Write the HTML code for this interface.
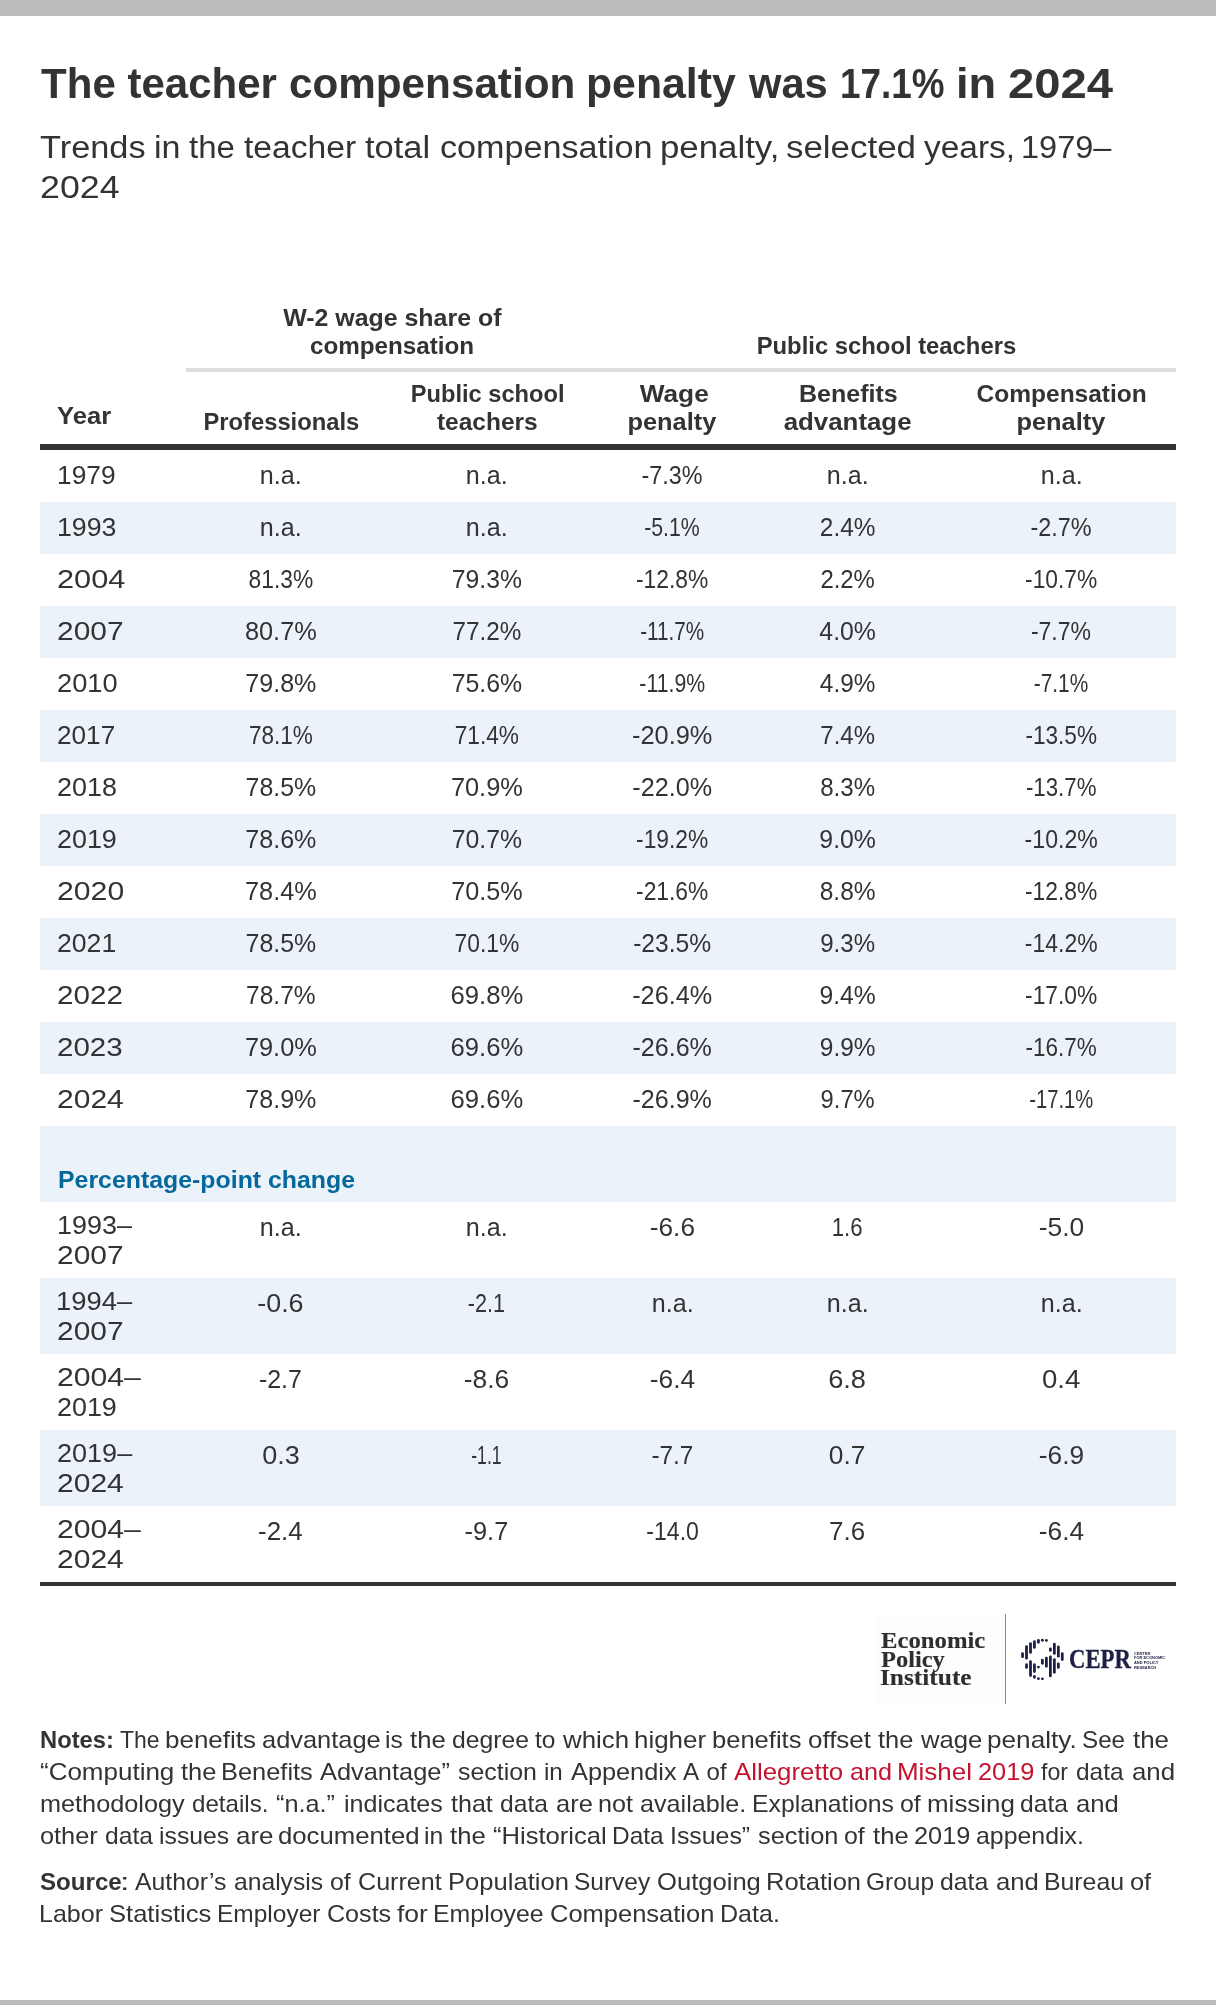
<!DOCTYPE html>
<html lang="en"><head><meta charset="utf-8">
<title>The teacher compensation penalty was 17.1% in 2024</title>
<style>
html,body{margin:0;padding:0;background:#fff;}
body{width:1216px;height:2005px;position:relative;overflow:hidden;font-family:"Liberation Sans",Arial,sans-serif;color:#333;}
.r{position:absolute;}
.t{position:absolute;white-space:nowrap;line-height:1;transform-origin:0 0;}
.c{transform-origin:50% 0;}
#w{position:absolute;left:0;top:0;width:1216px;height:2005px;will-change:transform;}
</style></head><body><div id="w">
<div class="r" style="left:877px;top:1614px;width:128px;height:90px;background:#fdfdfd"></div>
<div class="r" style="left:0px;top:0px;width:1216px;height:16px;background:#bbb"></div>
<div class="r" style="left:0px;top:2000px;width:1216px;height:5px;background:#bbb"></div>
<div class="r" style="left:186px;top:368px;width:990px;height:4px;background:#ddd"></div>
<div class="r" style="left:40px;top:444px;width:1136px;height:6px;background:#333"></div>
<div class="r" style="left:40px;top:502px;width:1136px;height:52px;background:#ebf2fa"></div>
<div class="r" style="left:40px;top:606px;width:1136px;height:52px;background:#ebf2fa"></div>
<div class="r" style="left:40px;top:710px;width:1136px;height:52px;background:#ebf2fa"></div>
<div class="r" style="left:40px;top:814px;width:1136px;height:52px;background:#ebf2fa"></div>
<div class="r" style="left:40px;top:918px;width:1136px;height:52px;background:#ebf2fa"></div>
<div class="r" style="left:40px;top:1022px;width:1136px;height:52px;background:#ebf2fa"></div>
<div class="r" style="left:40px;top:1126px;width:1136px;height:76px;background:#ebf2fa"></div>
<div class="r" style="left:40px;top:1278px;width:1136px;height:76px;background:#ebf2fa"></div>
<div class="r" style="left:40px;top:1430px;width:1136px;height:76px;background:#ebf2fa"></div>
<div class="r" style="left:40px;top:1582px;width:1136px;height:4px;background:#333"></div>
<div class="t" style="left:41.08px;top:63px;font-size:42px;font-weight:bold;">The</div>
<div class="t" style="left:127.53px;top:63px;font-size:42px;font-weight:bold;">teacher</div>
<div class="t" style="left:289.49px;top:63px;font-size:42px;font-weight:bold;transform:scaleX(1.0054);">compensation</div>
<div class="t" style="left:586.35px;top:63px;font-size:42px;font-weight:bold;transform:scaleX(1.0183);">penalty</div>
<div class="t" style="left:749.20px;top:63px;font-size:42px;font-weight:bold;transform:scaleX(0.9920);">was</div>
<div class="t" style="left:839.71px;top:63px;font-size:42px;font-weight:bold;transform:scaleX(0.8778);">17.1%</div>
<div class="t" style="left:956.47px;top:63px;font-size:42px;font-weight:bold;transform:scaleX(1.0765);">in</div>
<div class="t" style="left:1008.12px;top:63px;font-size:42px;font-weight:bold;transform:scaleX(1.1245);">2024</div>
<div class="t" style="left:40.39px;top:132px;font-size:31px;transform:scaleX(1.1075);">Trends</div>
<div class="t" style="left:153.80px;top:132px;font-size:31px;transform:scaleX(1.1000);">in</div>
<div class="t" style="left:189.05px;top:132px;font-size:31px;transform:scaleX(1.0632);">the</div>
<div class="t" style="left:244.04px;top:132px;font-size:31px;transform:scaleX(1.0853);">teacher</div>
<div class="t" style="left:365.03px;top:132px;font-size:31px;transform:scaleX(1.1123);">total</div>
<div class="t" style="left:439.98px;top:132px;font-size:31px;transform:scaleX(1.1012);">compensation</div>
<div class="t" style="left:659.55px;top:132px;font-size:31px;transform:scaleX(1.1227);">penalty,</div>
<div class="t" style="left:786.03px;top:132px;font-size:31px;transform:scaleX(1.1259);">selected</div>
<div class="t" style="left:924.38px;top:132px;font-size:31px;transform:scaleX(1.0784);">years,</div>
<div class="t" style="left:1020.88px;top:132px;font-size:31px;transform:scaleX(1.0490);">1979–</div>
<div class="t" style="left:39.75px;top:172px;font-size:31px;transform:scaleX(1.1537);">2024</div>
<div class="t c" style="left:285.07px;top:306px;font-size:24.5px;font-weight:bold;transform:scaleX(1.0169);">W-2 wage share of</div>
<div class="t c" style="left:308.55px;top:334px;font-size:24.5px;font-weight:bold;transform:scaleX(0.9884);">compensation</div>
<div class="t c" style="left:753.27px;top:334px;font-size:24.5px;font-weight:bold;transform:scaleX(0.9725);">Public school teachers</div>
<div class="t" style="left:56.96px;top:404px;font-size:24.5px;font-weight:bold;transform:scaleX(1.0447);">Year</div>
<div class="t c" style="left:200.60px;top:410px;font-size:24.5px;font-weight:bold;transform:scaleX(0.9696);">Professionals</div>
<div class="t c" style="left:407.69px;top:382px;font-size:24.5px;font-weight:bold;transform:scaleX(0.9653);">Public school</div>
<div class="t c" style="left:436.95px;top:410px;font-size:24.5px;font-weight:bold;">teachers</div>
<div class="t c" style="left:641.73px;top:382px;font-size:24.5px;font-weight:bold;transform:scaleX(1.0721);">Wage</div>
<div class="t c" style="left:629.37px;top:410px;font-size:24.5px;font-weight:bold;transform:scaleX(1.0356);">penalty</div>
<div class="t c" style="left:799.59px;top:382px;font-size:24.5px;font-weight:bold;transform:scaleX(1.0213);">Benefits</div>
<div class="t c" style="left:787.21px;top:410px;font-size:24.5px;font-weight:bold;transform:scaleX(1.0555);">advantage</div>
<div class="t c" style="left:976.62px;top:382px;font-size:24.5px;font-weight:bold;">Compensation</div>
<div class="t c" style="left:1017.87px;top:410px;font-size:24.5px;font-weight:bold;transform:scaleX(1.0356);">penalty</div>
<div class="t" style="left:56.57px;top:462px;font-size:26px;transform:scaleX(1.0139);">1979</div>
<div class="t c" style="left:258.99px;top:462px;font-size:26px;transform:scaleX(0.9660);">n.a.</div>
<div class="t c" style="left:464.99px;top:462px;font-size:26px;transform:scaleX(0.9660);">n.a.</div>
<div class="t c" style="left:638.37px;top:462px;font-size:26px;transform:scaleX(0.8973);">-7.3%</div>
<div class="t c" style="left:825.89px;top:462px;font-size:26px;transform:scaleX(0.9660);">n.a.</div>
<div class="t c" style="left:1039.79px;top:462px;font-size:26px;transform:scaleX(0.9660);">n.a.</div>
<div class="t" style="left:56.54px;top:514px;font-size:26px;transform:scaleX(1.0285);">1993</div>
<div class="t c" style="left:258.99px;top:514px;font-size:26px;transform:scaleX(0.9660);">n.a.</div>
<div class="t c" style="left:464.99px;top:514px;font-size:26px;transform:scaleX(0.9660);">n.a.</div>
<div class="t c" style="left:638.38px;top:514px;font-size:26px;transform:scaleX(0.8183);">-5.1%</div>
<div class="t c" style="left:817.56px;top:514px;font-size:26px;transform:scaleX(0.9386);">2.4%</div>
<div class="t c" style="left:1027.27px;top:514px;font-size:26px;transform:scaleX(0.8993);">-2.7%</div>
<div class="t" style="left:57.12px;top:566px;font-size:26px;transform:scaleX(1.1821);">2004</div>
<div class="t c" style="left:243.59px;top:566px;font-size:26px;transform:scaleX(0.8764);">81.3%</div>
<div class="t c" style="left:449.51px;top:566px;font-size:26px;transform:scaleX(0.9524);">79.3%</div>
<div class="t c" style="left:631.14px;top:566px;font-size:26px;transform:scaleX(0.8784);">-12.8%</div>
<div class="t c" style="left:817.57px;top:566px;font-size:26px;transform:scaleX(0.9185);">2.2%</div>
<div class="t c" style="left:1020.04px;top:566px;font-size:26px;transform:scaleX(0.8760);">-10.7%</div>
<div class="t" style="left:57.16px;top:618px;font-size:26px;transform:scaleX(1.1502);">2007</div>
<div class="t c" style="left:243.59px;top:618px;font-size:26px;transform:scaleX(0.9758);">80.7%</div>
<div class="t c" style="left:449.52px;top:618px;font-size:26px;transform:scaleX(0.9324);">77.2%</div>
<div class="t c" style="left:632.14px;top:618px;font-size:26px;transform:scaleX(0.7969);">-11.7%</div>
<div class="t c" style="left:817.89px;top:618px;font-size:26px;transform:scaleX(0.9537);">4.0%</div>
<div class="t c" style="left:1027.27px;top:618px;font-size:26px;transform:scaleX(0.8848);">-7.7%</div>
<div class="t" style="left:57.29px;top:670px;font-size:26px;transform:scaleX(1.0472);">2010</div>
<div class="t c" style="left:243.51px;top:670px;font-size:26px;transform:scaleX(0.9650);">79.8%</div>
<div class="t c" style="left:449.51px;top:670px;font-size:26px;transform:scaleX(0.9558);">75.6%</div>
<div class="t c" style="left:632.14px;top:670px;font-size:26px;transform:scaleX(0.8169);">-11.9%</div>
<div class="t c" style="left:817.89px;top:670px;font-size:26px;transform:scaleX(0.9376);">4.9%</div>
<div class="t c" style="left:1027.28px;top:670px;font-size:26px;transform:scaleX(0.8020);">-7.1%</div>
<div class="t" style="left:57.34px;top:722px;font-size:26px;transform:scaleX(1.0070);">2017</div>
<div class="t c" style="left:243.53px;top:722px;font-size:26px;transform:scaleX(0.8668);">78.1%</div>
<div class="t c" style="left:449.52px;top:722px;font-size:26px;transform:scaleX(0.8722);">71.4%</div>
<div class="t c" style="left:631.13px;top:722px;font-size:26px;transform:scaleX(0.9752);">-20.9%</div>
<div class="t c" style="left:817.56px;top:722px;font-size:26px;transform:scaleX(0.9221);">7.4%</div>
<div class="t c" style="left:1020.04px;top:722px;font-size:26px;transform:scaleX(0.8685);">-13.5%</div>
<div class="t" style="left:57.30px;top:774px;font-size:26px;transform:scaleX(1.0357);">2018</div>
<div class="t c" style="left:243.51px;top:774px;font-size:26px;transform:scaleX(0.9581);">78.5%</div>
<div class="t c" style="left:449.51px;top:774px;font-size:26px;transform:scaleX(0.9758);">70.9%</div>
<div class="t c" style="left:631.14px;top:774px;font-size:26px;transform:scaleX(0.9677);">-22.0%</div>
<div class="t c" style="left:817.63px;top:774px;font-size:26px;transform:scaleX(0.9271);">8.3%</div>
<div class="t c" style="left:1020.04px;top:774px;font-size:26px;transform:scaleX(0.8552);">-13.7%</div>
<div class="t" style="left:57.30px;top:826px;font-size:26px;transform:scaleX(1.0343);">2019</div>
<div class="t c" style="left:243.51px;top:826px;font-size:26px;transform:scaleX(0.9650);">78.6%</div>
<div class="t c" style="left:449.51px;top:826px;font-size:26px;transform:scaleX(0.9539);">70.7%</div>
<div class="t c" style="left:631.14px;top:826px;font-size:26px;transform:scaleX(0.8763);">-19.2%</div>
<div class="t c" style="left:817.57px;top:826px;font-size:26px;transform:scaleX(0.9555);">9.0%</div>
<div class="t c" style="left:1020.04px;top:826px;font-size:26px;transform:scaleX(0.8879);">-10.2%</div>
<div class="t" style="left:57.14px;top:878px;font-size:26px;transform:scaleX(1.1623);">2020</div>
<div class="t c" style="left:243.51px;top:878px;font-size:26px;transform:scaleX(0.9727);">78.4%</div>
<div class="t c" style="left:449.51px;top:878px;font-size:26px;transform:scaleX(0.9688);">70.5%</div>
<div class="t c" style="left:631.14px;top:878px;font-size:26px;transform:scaleX(0.8763);">-21.6%</div>
<div class="t c" style="left:817.63px;top:878px;font-size:26px;transform:scaleX(0.9429);">8.8%</div>
<div class="t c" style="left:1020.04px;top:878px;font-size:26px;transform:scaleX(0.8784);">-12.8%</div>
<div class="t" style="left:57.32px;top:930px;font-size:26px;transform:scaleX(1.0236);">2021</div>
<div class="t c" style="left:243.51px;top:930px;font-size:26px;transform:scaleX(0.9581);">78.5%</div>
<div class="t c" style="left:449.52px;top:930px;font-size:26px;transform:scaleX(0.8776);">70.1%</div>
<div class="t c" style="left:631.14px;top:930px;font-size:26px;transform:scaleX(0.9483);">-23.5%</div>
<div class="t c" style="left:817.58px;top:930px;font-size:26px;transform:scaleX(0.9262);">9.3%</div>
<div class="t c" style="left:1020.04px;top:930px;font-size:26px;transform:scaleX(0.8832);">-14.2%</div>
<div class="t" style="left:57.17px;top:982px;font-size:26px;transform:scaleX(1.1399);">2022</div>
<div class="t c" style="left:243.52px;top:982px;font-size:26px;transform:scaleX(0.9431);">78.7%</div>
<div class="t c" style="left:449.50px;top:982px;font-size:26px;transform:scaleX(0.9872);">69.8%</div>
<div class="t c" style="left:631.14px;top:982px;font-size:26px;transform:scaleX(0.9704);">-26.4%</div>
<div class="t c" style="left:817.57px;top:982px;font-size:26px;transform:scaleX(0.9488);">9.4%</div>
<div class="t c" style="left:1020.04px;top:982px;font-size:26px;transform:scaleX(0.8760);">-17.0%</div>
<div class="t" style="left:57.17px;top:1034px;font-size:26px;transform:scaleX(1.1361);">2023</div>
<div class="t c" style="left:243.51px;top:1034px;font-size:26px;transform:scaleX(0.9758);">79.0%</div>
<div class="t c" style="left:449.50px;top:1034px;font-size:26px;transform:scaleX(0.9849);">69.6%</div>
<div class="t c" style="left:631.14px;top:1034px;font-size:26px;transform:scaleX(0.9636);">-26.6%</div>
<div class="t c" style="left:817.57px;top:1034px;font-size:26px;transform:scaleX(0.9392);">9.9%</div>
<div class="t c" style="left:1020.04px;top:1034px;font-size:26px;transform:scaleX(0.8644);">-16.7%</div>
<div class="t" style="left:57.15px;top:1086px;font-size:26px;transform:scaleX(1.1546);">2024</div>
<div class="t c" style="left:243.51px;top:1086px;font-size:26px;transform:scaleX(0.9650);">78.9%</div>
<div class="t c" style="left:449.50px;top:1086px;font-size:26px;transform:scaleX(0.9849);">69.6%</div>
<div class="t c" style="left:631.14px;top:1086px;font-size:26px;transform:scaleX(0.9636);">-26.9%</div>
<div class="t c" style="left:817.58px;top:1086px;font-size:26px;transform:scaleX(0.9119);">9.7%</div>
<div class="t c" style="left:1020.05px;top:1086px;font-size:26px;transform:scaleX(0.7771);">-17.1%</div>
<div class="t" style="left:57.67px;top:1168px;font-size:24.5px;font-weight:bold;color:#04689b;transform:scaleX(1.0149);">Percentage-point change</div>
<div class="t" style="left:56.53px;top:1212px;font-size:26px;transform:scaleX(1.0357);">1993–</div>
<div class="t" style="left:57.16px;top:1242px;font-size:26px;transform:scaleX(1.1502);">2007</div>
<div class="t c" style="left:258.99px;top:1214px;font-size:26px;transform:scaleX(0.9660);">n.a.</div>
<div class="t c" style="left:464.99px;top:1214px;font-size:26px;transform:scaleX(0.9660);">n.a.</div>
<div class="t c" style="left:650.09px;top:1214px;font-size:26px;transform:scaleX(1.0091);">-6.6</div>
<div class="t c" style="left:828.96px;top:1214px;font-size:26px;transform:scaleX(0.8519);">1.6</div>
<div class="t c" style="left:1038.91px;top:1214px;font-size:26px;transform:scaleX(1.0156);">-5.0</div>
<div class="t" style="left:56.49px;top:1288px;font-size:26px;transform:scaleX(1.0541);">1994–</div>
<div class="t" style="left:57.16px;top:1318px;font-size:26px;transform:scaleX(1.1502);">2007</div>
<div class="t c" style="left:258.19px;top:1290px;font-size:26px;transform:scaleX(1.0311);">-0.6</div>
<div class="t c" style="left:464.20px;top:1290px;font-size:26px;transform:scaleX(0.8306);">-2.1</div>
<div class="t c" style="left:650.89px;top:1290px;font-size:26px;transform:scaleX(0.9660);">n.a.</div>
<div class="t c" style="left:825.89px;top:1290px;font-size:26px;transform:scaleX(0.9660);">n.a.</div>
<div class="t c" style="left:1039.79px;top:1290px;font-size:26px;transform:scaleX(0.9660);">n.a.</div>
<div class="t" style="left:57.14px;top:1364px;font-size:26px;transform:scaleX(1.1600);">2004–</div>
<div class="t" style="left:57.30px;top:1394px;font-size:26px;transform:scaleX(1.0343);">2019</div>
<div class="t c" style="left:258.23px;top:1366px;font-size:26px;transform:scaleX(0.9600);">-2.7</div>
<div class="t c" style="left:464.19px;top:1366px;font-size:26px;transform:scaleX(1.0130);">-8.6</div>
<div class="t c" style="left:649.85px;top:1366px;font-size:26px;transform:scaleX(1.0108);">-6.4</div>
<div class="t c" style="left:829.25px;top:1366px;font-size:26px;transform:scaleX(1.0472);">6.8</div>
<div class="t c" style="left:1043.04px;top:1366px;font-size:26px;transform:scaleX(1.0612);">0.4</div>
<div class="t" style="left:57.30px;top:1440px;font-size:26px;transform:scaleX(1.0399);">2019–</div>
<div class="t" style="left:57.15px;top:1470px;font-size:26px;transform:scaleX(1.1546);">2024</div>
<div class="t c" style="left:262.50px;top:1442px;font-size:26px;transform:scaleX(1.0388);">0.3</div>
<div class="t c" style="left:464.18px;top:1442px;font-size:26px;transform:scaleX(0.6793);">-1.1</div>
<div class="t c" style="left:650.12px;top:1442px;font-size:26px;transform:scaleX(0.9374);">-7.7</div>
<div class="t c" style="left:829.41px;top:1442px;font-size:26px;transform:scaleX(1.0149);">0.7</div>
<div class="t c" style="left:1039.01px;top:1442px;font-size:26px;transform:scaleX(1.0101);">-6.9</div>
<div class="t" style="left:57.14px;top:1516px;font-size:26px;transform:scaleX(1.1600);">2004–</div>
<div class="t" style="left:57.15px;top:1546px;font-size:26px;transform:scaleX(1.1546);">2024</div>
<div class="t c" style="left:257.96px;top:1518px;font-size:26px;transform:scaleX(0.9968);">-2.4</div>
<div class="t c" style="left:464.23px;top:1518px;font-size:26px;transform:scaleX(0.9742);">-9.7</div>
<div class="t c" style="left:642.85px;top:1518px;font-size:26px;transform:scaleX(0.8874);">-14.0</div>
<div class="t c" style="left:829.26px;top:1518px;font-size:26px;transform:scaleX(0.9952);">7.6</div>
<div class="t c" style="left:1038.75px;top:1518px;font-size:26px;transform:scaleX(1.0108);">-6.4</div>
<div class="t" style="left:39.94px;top:1728px;font-size:24px;font-weight:bold;transform:scaleX(0.9886);">Notes:</div>
<div class="t" style="left:120.02px;top:1728px;font-size:24px;transform:scaleX(0.9570);">The</div>
<div class="t" style="left:164.83px;top:1728px;font-size:24px;transform:scaleX(1.0827);">benefits</div>
<div class="t" style="left:261.83px;top:1728px;font-size:24px;transform:scaleX(1.0583);">advantage</div>
<div class="t" style="left:385.29px;top:1728px;font-size:24px;transform:scaleX(1.0259);">is</div>
<div class="t" style="left:410.18px;top:1728px;font-size:24px;transform:scaleX(1.0695);">the</div>
<div class="t" style="left:451.57px;top:1728px;font-size:24px;transform:scaleX(1.0300);">degree</div>
<div class="t" style="left:535.19px;top:1728px;font-size:24px;transform:scaleX(1.0215);">to</div>
<div class="t" style="left:563.49px;top:1728px;font-size:24px;transform:scaleX(1.0776);">which</div>
<div class="t" style="left:634.04px;top:1728px;font-size:24px;transform:scaleX(1.0797);">higher</div>
<div class="t" style="left:711.56px;top:1728px;font-size:24px;transform:scaleX(1.0643);">benefits</div>
<div class="t" style="left:808.02px;top:1728px;font-size:24px;transform:scaleX(1.0802);">offset</div>
<div class="t" style="left:878.48px;top:1728px;font-size:24px;transform:scaleX(1.0600);">the</div>
<div class="t" style="left:920.89px;top:1728px;font-size:24px;transform:scaleX(1.0698);">wage</div>
<div class="t" style="left:987.32px;top:1728px;font-size:24px;transform:scaleX(1.0897);">penalty.</div>
<div class="t" style="left:1082.01px;top:1728px;font-size:24px;transform:scaleX(1.0083);">See</div>
<div class="t" style="left:1132.77px;top:1728px;font-size:24px;transform:scaleX(1.0790);">the</div>
<div class="t" style="left:40.42px;top:1760px;font-size:24px;transform:scaleX(1.0826);">“Computing</div>
<div class="t" style="left:180.98px;top:1760px;font-size:24px;transform:scaleX(1.0600);">the</div>
<div class="t" style="left:221.28px;top:1760px;font-size:24px;transform:scaleX(1.0586);">Benefits</div>
<div class="t" style="left:320.30px;top:1760px;font-size:24px;transform:scaleX(1.0579);">Advantage”</div>
<div class="t" style="left:458.16px;top:1760px;font-size:24px;transform:scaleX(1.0367);">section</div>
<div class="t" style="left:544.12px;top:1760px;font-size:24px;transform:scaleX(1.0047);">in</div>
<div class="t" style="left:570.80px;top:1760px;font-size:24px;transform:scaleX(1.0548);">Appendix</div>
<div class="t" style="left:682.71px;top:1760px;font-size:24px;transform:scaleX(1.0095);">A</div>
<div class="t" style="left:706.60px;top:1760px;font-size:24px;">of</div>
<div class="t" style="left:734.30px;top:1760px;font-size:24px;color:#c4122f;transform:scaleX(1.0770);">Allegretto</div>
<div class="t" style="left:849.83px;top:1760px;font-size:24px;color:#c4122f;transform:scaleX(1.0494);">and</div>
<div class="t" style="left:897.04px;top:1760px;font-size:24px;color:#c4122f;transform:scaleX(1.0807);">Mishel</div>
<div class="t" style="left:977.90px;top:1760px;font-size:24px;color:#c4122f;transform:scaleX(1.0558);">2019</div>
<div class="t" style="left:1041.32px;top:1760px;font-size:24px;transform:scaleX(0.9651);">for</div>
<div class="t" style="left:1075.78px;top:1760px;font-size:24px;transform:scaleX(1.0190);">data</div>
<div class="t" style="left:1131.71px;top:1760px;font-size:24px;transform:scaleX(1.0760);">and</div>
<div class="t" style="left:39.83px;top:1792px;font-size:24px;transform:scaleX(1.0523);">methodology</div>
<div class="t" style="left:191.79px;top:1792px;font-size:24px;transform:scaleX(1.0055);">details.</div>
<div class="t" style="left:276.35px;top:1792px;font-size:24px;transform:scaleX(1.0537);">“n.a.”</div>
<div class="t" style="left:344.16px;top:1792px;font-size:24px;transform:scaleX(1.0432);">indicates</div>
<div class="t" style="left:450.68px;top:1792px;font-size:24px;transform:scaleX(1.0439);">that</div>
<div class="t" style="left:500.27px;top:1792px;font-size:24px;transform:scaleX(1.0256);">data</div>
<div class="t" style="left:555.82px;top:1792px;font-size:24px;transform:scaleX(1.0604);">are</div>
<div class="t" style="left:598.34px;top:1792px;font-size:24px;transform:scaleX(1.0473);">not</div>
<div class="t" style="left:640.04px;top:1792px;font-size:24px;transform:scaleX(1.0481);">available.</div>
<div class="t" style="left:751.53px;top:1792px;font-size:24px;transform:scaleX(1.0325);">Explanations</div>
<div class="t" style="left:900.16px;top:1792px;font-size:24px;transform:scaleX(1.0368);">of</div>
<div class="t" style="left:927.39px;top:1792px;font-size:24px;transform:scaleX(1.0813);">missing</div>
<div class="t" style="left:1020.27px;top:1792px;font-size:24px;transform:scaleX(1.0256);">data</div>
<div class="t" style="left:1076.12px;top:1792px;font-size:24px;transform:scaleX(1.0680);">and</div>
<div class="t" style="left:40.45px;top:1824px;font-size:24px;transform:scaleX(1.0547);">other</div>
<div class="t" style="left:104.67px;top:1824px;font-size:24px;transform:scaleX(1.0256);">data</div>
<div class="t" style="left:159.28px;top:1824px;font-size:24px;transform:scaleX(1.0317);">issues</div>
<div class="t" style="left:235.50px;top:1824px;font-size:24px;transform:scaleX(1.0820);">are</div>
<div class="t" style="left:278.23px;top:1824px;font-size:24px;transform:scaleX(1.0721);">documented</div>
<div class="t" style="left:423.58px;top:1824px;font-size:24px;transform:scaleX(1.0307);">in</div>
<div class="t" style="left:449.68px;top:1824px;font-size:24px;transform:scaleX(1.0695);">the</div>
<div class="t" style="left:492.73px;top:1824px;font-size:24px;transform:scaleX(1.0654);">“Historical</div>
<div class="t" style="left:611.76px;top:1824px;font-size:24px;transform:scaleX(1.0178);">Data</div>
<div class="t" style="left:670.16px;top:1824px;font-size:24px;transform:scaleX(1.0359);">Issues”</div>
<div class="t" style="left:758.14px;top:1824px;font-size:24px;transform:scaleX(1.0571);">section</div>
<div class="t" style="left:844.26px;top:1824px;font-size:24px;transform:scaleX(1.0368);">of</div>
<div class="t" style="left:872.58px;top:1824px;font-size:24px;transform:scaleX(1.0695);">the</div>
<div class="t" style="left:913.80px;top:1824px;font-size:24px;transform:scaleX(1.0538);">2019</div>
<div class="t" style="left:976.45px;top:1824px;font-size:24px;transform:scaleX(1.0358);">appendix.</div>
<div class="t" style="left:40.47px;top:1870px;font-size:24px;font-weight:bold;transform:scaleX(1.0052);">Source</div>
<div class="t" style="left:120.01px;top:1870px;font-size:24px;transform:scaleX(1.4123);">:</div>
<div class="t" style="left:135.11px;top:1870px;font-size:24px;transform:scaleX(1.0339);">Author’s</div>
<div class="t" style="left:233.86px;top:1870px;font-size:24px;transform:scaleX(1.0275);">analysis</div>
<div class="t" style="left:329.96px;top:1870px;font-size:24px;transform:scaleX(1.0368);">of</div>
<div class="t" style="left:357.76px;top:1870px;font-size:24px;transform:scaleX(1.0460);">Current</div>
<div class="t" style="left:447.87px;top:1870px;font-size:24px;transform:scaleX(1.0659);">Population</div>
<div class="t" style="left:573.89px;top:1870px;font-size:24px;transform:scaleX(1.0208);">Survey</div>
<div class="t" style="left:657.02px;top:1870px;font-size:24px;transform:scaleX(1.0662);">Outgoing</div>
<div class="t" style="left:765.67px;top:1870px;font-size:24px;transform:scaleX(1.0633);">Rotation</div>
<div class="t" style="left:866.10px;top:1870px;font-size:24px;transform:scaleX(1.0211);">Group</div>
<div class="t" style="left:940.27px;top:1870px;font-size:24px;transform:scaleX(1.0343);">data</div>
<div class="t" style="left:996.11px;top:1870px;font-size:24px;transform:scaleX(1.0707);">and</div>
<div class="t" style="left:1043.83px;top:1870px;font-size:24px;transform:scaleX(1.0342);">Bureau</div>
<div class="t" style="left:1130.04px;top:1870px;font-size:24px;transform:scaleX(1.0579);">of</div>
<div class="t" style="left:39.42px;top:1902px;font-size:24px;transform:scaleX(1.0424);">Labor</div>
<div class="t" style="left:109.13px;top:1902px;font-size:24px;transform:scaleX(1.0650);">Statistics</div>
<div class="t" style="left:217.06px;top:1902px;font-size:24px;transform:scaleX(1.0202);">Employer</div>
<div class="t" style="left:327.46px;top:1902px;font-size:24px;transform:scaleX(1.0457);">Costs</div>
<div class="t" style="left:397.48px;top:1902px;font-size:24px;transform:scaleX(1.1040);">for</div>
<div class="t" style="left:433.43px;top:1902px;font-size:24px;transform:scaleX(1.0365);">Employee</div>
<div class="t" style="left:550.04px;top:1902px;font-size:24px;transform:scaleX(1.0618);">Compensation</div>
<div class="t" style="left:719.61px;top:1902px;font-size:24px;transform:scaleX(1.0434);">Data.</div>
<div class="t" style="left:880.51px;top:1629px;font-size:23px;font-weight:bold;color:#2e2e2e;font-family:'Liberation Serif', 'Times New Roman', serif;transform:scaleX(1.0746);-webkit-text-stroke:0.12px #2e2e2e;">Economic</div>
<div class="t" style="left:880.52px;top:1648px;font-size:23px;font-weight:bold;color:#2e2e2e;font-family:'Liberation Serif', 'Times New Roman', serif;transform:scaleX(1.0627);-webkit-text-stroke:0.12px #2e2e2e;">Policy</div>
<div class="t" style="left:879.90px;top:1666px;font-size:23px;font-weight:bold;color:#2e2e2e;font-family:'Liberation Serif', 'Times New Roman', serif;transform:scaleX(1.1025);-webkit-text-stroke:0.12px #2e2e2e;">Institute</div>
<div class="t" style="left:1068.89px;top:1646px;font-size:27px;font-weight:bold;color:#1d2044;font-family:'Liberation Serif', 'Times New Roman', serif;transform:scaleX(0.8416);-webkit-text-stroke:0.35px #1d2044;">CEPR</div>
<svg class="r" style="left:1016px;top:1632px" width="56" height="54" viewBox="0 0 1216 1173"><g stroke="#1d2044" stroke-width="60" stroke-linecap="round" fill="#1d2044"><line x1="142" y1="470" x2="142" y2="535"/><line x1="228" y1="320" x2="228" y2="570"/><line x1="315" y1="250" x2="315" y2="445"/><line x1="400" y1="210" x2="400" y2="335"/><line x1="487" y1="180" x2="487" y2="225"/><line x1="747" y1="365" x2="747" y2="400"/><line x1="833" y1="265" x2="833" y2="465"/><line x1="920" y1="325" x2="920" y2="525"/><line x1="1005" y1="470" x2="1005" y2="600"/><line x1="228" y1="710" x2="228" y2="770"/><line x1="315" y1="645" x2="315" y2="945"/><line x1="400" y1="710" x2="400" y2="860"/><line x1="400" y1="965" x2="400" y2="985"/><line x1="573" y1="610" x2="573" y2="680"/><line x1="660" y1="565" x2="660" y2="745"/><line x1="747" y1="540" x2="747" y2="955"/><line x1="833" y1="600" x2="833" y2="875"/><line x1="920" y1="690" x2="920" y2="770"/></g><g fill="#1d2044"><circle cx="573" cy="180" r="31"/><circle cx="660" cy="183" r="31"/><circle cx="487" cy="762" r="31"/><circle cx="487" cy="1013" r="31"/><circle cx="573" cy="1017" r="31"/></g></svg>
<div class="t" style="left:1133.9px;top:1650.7px;font-size:8.8px;line-height:9.2px;font-weight:bold;color:#1d2044;transform:scale(0.45,0.5)">CENTER<br>FOR ECONOMIC<br>AND POLICY<br>RESEARCH</div>
<div class="r" style="left:1005px;top:1614px;width:1px;height:90px;background:#8a8a8a"></div>
</div></body></html>
